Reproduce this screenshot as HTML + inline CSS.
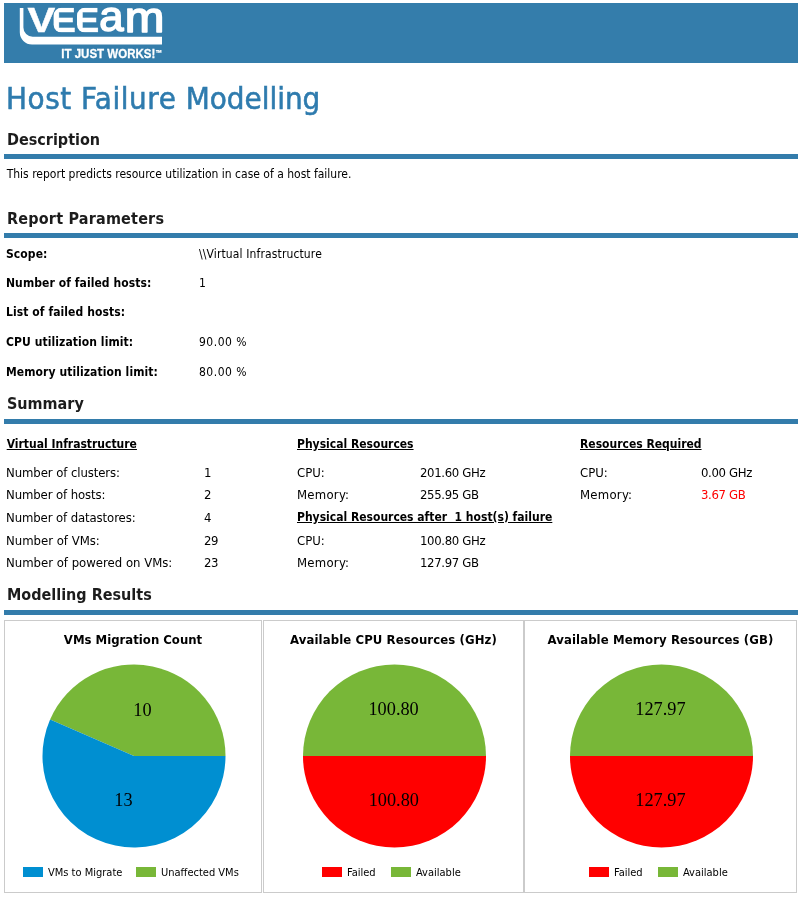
<!DOCTYPE html>
<html><head><meta charset="utf-8"><title>Host Failure Modelling</title>
<style>
html,body{margin:0;padding:0;background:#fff;}
body{width:801px;height:897px;position:relative;overflow:hidden;font-family:"DejaVu Sans Condensed","Liberation Sans",sans-serif;font-size:12px;color:#000;}
.a{position:absolute;white-space:pre;line-height:1;}
.bar{position:absolute;left:4px;width:794px;height:5px;background:#337cab;}
.h1{font-size:31px;color:#2e7bae;left:6px;-webkit-text-stroke:.55px #2e7bae;}
.h2{font-weight:bold;font-size:16px;color:#1c1c1c;left:7px;}
.b{font-weight:bold;letter-spacing:.08px;}
.s{font-size:13px;}
.v{letter-spacing:-.33px;}
.u{font-weight:bold;text-decoration:underline;}
.box{position:absolute;top:620px;height:271px;border:1px solid #cbcbcb;background:#fff;}
.ct{font-weight:bold;font-size:13px;text-align:center;top:633px;}
.lg{font-size:11px;top:867px;}
.sw{position:absolute;top:867px;width:20px;height:10px;}
</style></head><body>
<div id="banner" style="position:absolute;left:4px;top:3px;width:794px;height:60px;background:#347dab;"></div>
<svg class="a" id="logo" style="left:0;top:0;" width="200" height="66" viewBox="0 0 200 66" role="img" aria-label="VEEAM - IT JUST WORKS!">
<title>VEEAM - IT JUST WORKS!</title>
<defs><clipPath id="ce1"><rect x="53.6" y="7.7" width="40" height="24.9" rx="8"/></clipPath><clipPath id="ce2"><rect x="77" y="7.7" width="40" height="24.9" rx="8"/></clipPath></defs>
<path d="M19.8 7.9 H23.4 V27.5 A9.3 9.3 0 0 0 32.7 36.8 H162 V44.5 H32 A12.2 12.2 0 0 1 19.8 32.3 Z" fill="#fff"/>
<g font-family="'Liberation Sans',sans-serif" font-weight="bold" font-size="100" fill="#fff" stroke="#fff" stroke-width="1.2">
<text transform="matrix(0.4154 0 0 0.3522 27.48 32.30)">V</text>
<g clip-path="url(#ce1)"><text transform="matrix(0.3732 0 0 0.3522 51.09 32.30)">E</text></g>
<g clip-path="url(#ce2)"><text transform="matrix(0.3714 0 0 0.3522 74.50 32.30)">E</text></g>
<text transform="matrix(0.4365 0 0 0.4236 99.15 31.48)" font-weight="normal" stroke-width="3.8" stroke-linejoin="round">a</text>
<text transform="matrix(0.4757 0 0 0.4278 124.77 31.70)" font-weight="normal" stroke-width="3.7" stroke-linejoin="round">m</text>
</g>
<g font-family="'Liberation Sans',sans-serif" font-weight="bold" fill="#fff" stroke="#fff" stroke-width=".3">
<text x="61.3" y="57.9" font-size="12.4" textLength="94" lengthAdjust="spacingAndGlyphs">IT JUST WORKS!</text>
<text x="155.8" y="55.6" font-size="8.5" textLength="6.6" lengthAdjust="spacingAndGlyphs">™</text>
</g>
</svg>
<div class="a h1" id="title" style="top:83px;"><span style="letter-spacing:.55px">Host </span><span style="letter-spacing:.55px">Failure </span><span style="letter-spacing:-0.02px">Modelling</span></div>

<div class="a h2" style="top:132px;">Description</div>
<div class="bar" style="top:154px;"></div>
<div class="a" style="left:6.7px;top:168px;">This report predicts resource utilization in case of a host failure.</div>

<div class="a h2" style="top:211px;letter-spacing:.2px;">Report Parameters</div>
<div class="bar" style="top:233px;"></div>
<div class="a b" style="left:6px;top:248px;">Scope:</div><div class="a" style="left:199px;top:248px;letter-spacing:.13px;">\\Virtual Infrastructure</div>
<div class="a b" style="left:6px;top:277px;">Number of failed hosts:</div><div class="a" style="left:199px;top:277px;">1</div>
<div class="a b" style="left:6px;top:306px;">List of failed hosts:</div>
<div class="a b" style="left:6px;top:336px;">CPU utilization limit:</div><div class="a" style="left:199px;top:336px;letter-spacing:.5px;">90.00 %</div>
<div class="a b" style="left:6px;top:366px;">Memory utilization limit:</div><div class="a" style="left:199px;top:366px;letter-spacing:.5px;">80.00 %</div>

<div class="a h2" style="top:396px;">Summary</div>
<div class="bar" style="top:419px;"></div>
<div class="a u" style="left:6.7px;top:438px;">Virtual Infrastructure</div>
<div class="a u" style="left:297px;top:438px;">Physical Resources</div>
<div class="a u" style="left:580px;top:438px;">Resources Required</div>

<div class="a s" style="left:6px;top:466px;letter-spacing:-.08px;">Number of clusters:</div><div class="a s v" style="left:204px;top:466px;">1</div>
<div class="a s" style="left:297px;top:466px;">CPU:</div><div class="a s v" style="left:420px;top:466px;">201.60 GHz</div>
<div class="a s" style="left:580px;top:466px;">CPU:</div><div class="a s v" style="left:701px;top:466px;">0.00 GHz</div>

<div class="a s" style="left:6px;top:488px;letter-spacing:-.1px;">Number of hosts:</div><div class="a s v" style="left:204px;top:488px;">2</div>
<div class="a s" style="left:297px;top:488px;letter-spacing:.25px;">Memory:</div><div class="a s v" style="left:420px;top:488px;">255.95 GB</div>
<div class="a s" style="left:580px;top:488px;letter-spacing:.25px;">Memory:</div><div class="a s v" style="left:701px;top:488px;color:#f00;">3.67 GB</div>

<div class="a s" style="left:6px;top:511px;letter-spacing:-.1px;">Number of datastores:</div><div class="a s v" style="left:204px;top:511px;">4</div>
<div class="a u" style="left:297px;top:511px;">Physical Resources after  1 host(s) failure</div>

<div class="a s" style="left:6px;top:534px;">Number of VMs:</div><div class="a s v" style="left:204px;top:534px;">29</div>
<div class="a s" style="left:297px;top:534px;">CPU:</div><div class="a s v" style="left:420px;top:534px;">100.80 GHz</div>

<div class="a s" style="left:6px;top:556px;">Number of powered on VMs:</div><div class="a s v" style="left:204px;top:556px;">23</div>
<div class="a s" style="left:297px;top:556px;letter-spacing:.25px;">Memory:</div><div class="a s v" style="left:420px;top:556px;">127.97 GB</div>

<div class="a h2" style="top:587px;">Modelling Results</div>
<div class="bar" style="top:610px;"></div>

<div class="box" style="left:4px;width:256px;"></div>
<div class="box" style="left:263px;width:259px;"></div>
<div class="box" style="left:524px;width:271px;"></div>

<div class="a ct" style="left:4px;width:258px;">VMs Migration Count</div>
<div class="a ct" style="left:263px;width:261px;letter-spacing:.1px;">Available CPU Resources (GHz)</div>
<div class="a ct" style="left:524px;width:273px;letter-spacing:.1px;">Available Memory Resources (GB)</div>

<svg class="a" style="left:0;top:620px;" width="801" height="277" viewBox="0 620 801 277">
<path d="M134 756 L225.5 756 A91.5 91.5 0 0 0 50.08 719.55 Z" fill="#78b738"/>
<path d="M134 756 L225.5 756 A91.5 91.5 0 1 1 50.08 719.55 Z" fill="#008fd1"/>
<path d="M303 756 A91.5 91.5 0 0 1 486 756 Z" fill="#78b738"/>
<path d="M303 756 A91.5 91.5 0 0 0 486 756 Z" fill="#ff0000"/>
<path d="M570 756 A91.5 91.5 0 0 1 753 756 Z" fill="#78b738"/>
<path d="M570 756 A91.5 91.5 0 0 0 753 756 Z" fill="#ff0000"/>
<g font-family="'Liberation Serif',serif" font-size="18.3" text-anchor="middle" fill="#000">
<text x="142.5" y="716">10</text><text x="123.4" y="806">13</text>
<text x="393.6" y="714.8">100.80</text><text x="393.8" y="806">100.80</text>
<text x="660.4" y="714.8">127.97</text><text x="660.4" y="806">127.97</text>
</g>
</svg>

<div class="sw" style="left:23px;background:#008fd1;"></div><div class="a lg" style="left:48px;">VMs to Migrate</div>
<div class="sw" style="left:136px;background:#78b738;"></div><div class="a lg" style="left:161px;">Unaffected VMs</div>
<div class="sw" style="left:322px;background:#ff0000;"></div><div class="a lg" style="left:347px;">Failed</div>
<div class="sw" style="left:391px;background:#78b738;"></div><div class="a lg" style="left:416px;">Available</div>
<div class="sw" style="left:589px;background:#ff0000;"></div><div class="a lg" style="left:614px;">Failed</div>
<div class="sw" style="left:658px;background:#78b738;"></div><div class="a lg" style="left:683px;">Available</div>
</body></html>
